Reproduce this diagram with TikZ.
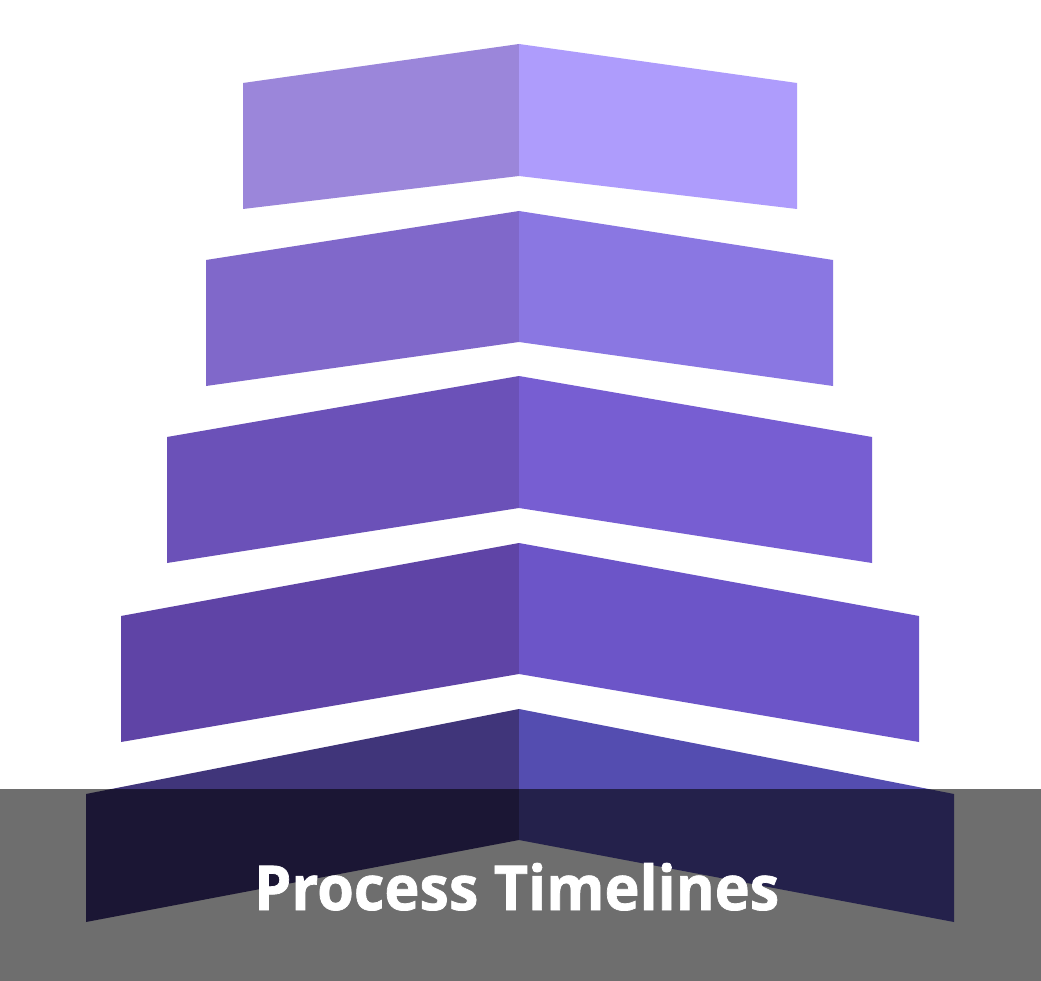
\documentclass[tikz,border=0pt]{standalone}
\usepackage{fontspec}
\setmainfont{Open Sans}
\newfontfamily\titlefont[FakeBold=1.2]{Open Sans Bold}
\definecolor{bAl}{HTML}{9B86DA}\definecolor{bAr}{HTML}{AE9CFC}
\definecolor{bBl}{HTML}{8068CA}\definecolor{bBr}{HTML}{8A77E2}
\definecolor{bCl}{HTML}{6B51B8}\definecolor{bCr}{HTML}{775ED2}
\definecolor{bDl}{HTML}{5F44A6}\definecolor{bDr}{HTML}{6C55C8}
\definecolor{bEl}{HTML}{40357A}\definecolor{bEr}{HTML}{544DB0}
\newcommand{\myband}[8]{%
  \fill[#7] (#1,#3) -- (519,#5) -- (519,#6) -- (#1,#4) -- cycle;
  \fill[#8] (519,#5) -- (#2,#3) -- (#2,#4) -- (519,#6) -- cycle;
}
\tikzset{overlaybar/.style={fill=black, fill opacity=0.57},
         titletext/.style={text=white, inner sep=0pt, anchor=base west}}
\begin{document}
\begin{tikzpicture}[x=1pt,y=-1pt]
\useasboundingbox (0,0) rectangle (1041,981);
\fill[white] (0,0) rectangle (1041,981);
\myband{243}{797}{83}{209}{44}{176}{bAl}{bAr}
\myband{206}{833}{260}{386}{211}{342}{bBl}{bBr}
\myband{167}{872}{437}{563}{376}{508}{bCl}{bCr}
\myband{121}{919}{616}{742}{543}{674}{bDl}{bDr}
\myband{86}{954}{794}{922}{709}{840}{bEl}{bEr}
\fill[overlaybar] (0,789) rectangle (1041,981);
\node[titletext] (title) at (254,910) {\resizebox{525pt}{47pt}{\titlefont Process Timelines}};
\end{tikzpicture}
\end{document}
